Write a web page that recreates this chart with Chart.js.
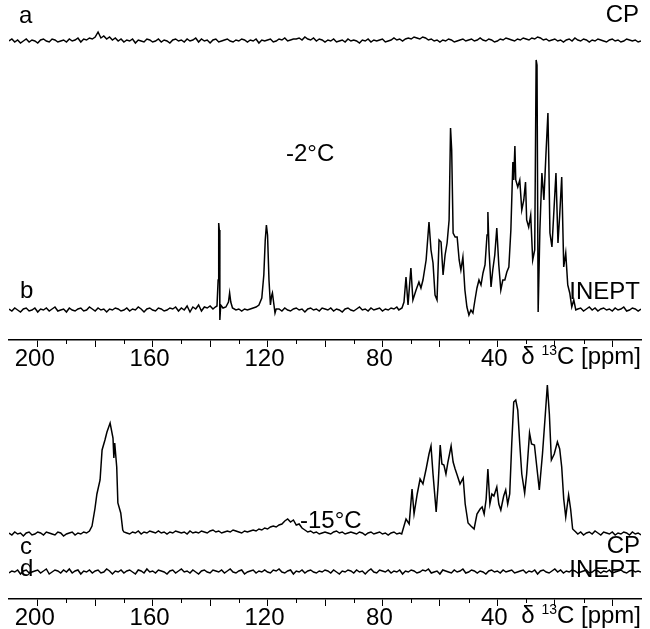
<!DOCTYPE html>
<html>
<head>
<meta charset="utf-8">
<script src="https://cdn.jsdelivr.net/npm/chart.js@4.4.1/dist/chart.umd.min.js"></script>
<style>
  body { margin: 0; background: #fff; }
  #wrap { position: relative; width: 650px; height: 629px; font-family: "Liberation Sans", Arial, sans-serif; }
  canvas { position: absolute; left: 0; }
  .lbl { position: absolute; font-size: 24px; line-height: 24px; color: #000; white-space: nowrap; }
  .lbl sup { font-size: 14px; vertical-align: 9px; line-height: 0; }
</style>
</head>
<body>
<div id="wrap">
  <canvas id="topChart" width="650" height="370" style="top:0"></canvas>
  <canvas id="botChart" width="650" height="259" style="top:370px"></canvas>

  <div class="lbl" style="left:19px; top:3px">a</div>
  <div class="lbl" style="right:11px; top:2px">CP</div>
  <div class="lbl" style="left:286px; top:141px">-2°C</div>
  <div class="lbl" style="left:20px; top:278px">b</div>
  <div class="lbl" style="right:10px; top:279px">INEPT</div>
  <div class="lbl" style="right:9px; top:344px">δ <sup>13</sup>C [ppm]</div>

  <div class="lbl" style="left:300px; top:508px">-15°C</div>
  <div class="lbl" style="left:20px; top:534px">c</div>
  <div class="lbl" style="right:10px; top:533px">CP</div>
  <div class="lbl" style="left:20px; top:556px">d</div>
  <div class="lbl" style="right:10px; top:557px">INEPT</div>
  <div class="lbl" style="right:9px; top:603px">δ <sup>13</sup>C [ppm]</div>
</div>

<script>
// chemical shift axis, ppm (reversed)
const ppmMin = -10;
const ppmMax = 210;
const tickLabels = [200, 160, 120, 80, 40];

// noise-only traces, one value per ppm from 210 down to -10
const aNoise = [0, 2, -1, 1, -2, 0, 2, -1, 1, 0, -2, 1, 2, 0, -1, 2, 1, -1, 0, 1,
  -1, 2, 0, 1, 3, -1, 2, 1, 3, 2, 4, 9, 3, 5, 2, 4, 1, 3, 0, 2,
  -1, 1, 0, 2, -2, 1, 0, -1, 2, 1, -1, 0, 2, -1, 1, 0, -2, 1, 2, 0,
  1, -1, 2, 0, 1, 3, -1, 2, 0, 1, -2, 1, 2, -1, 0, 1, 2, 0, -1, 1,
  0, 2, 1, -1, 1, 0, 2, -2, 1, 0, 1, 2, -1, 0, 2, 1, 3, 0, 1, 2,
  2, 3, 1, 4, 2, 1, 3, 0, 2, 1, -1, 1, 0, 2, -1, 0, 1, -1, 2, 0,
  1, 0, -2, 1, 0, 2, -1, 1, 0, 1, 2, -1, 0, 1, 3, 1, 2, 0, 2, 3,
  2, 4, 3, 2, 4, 3, 1, 2, 0, 1, -1, 1, 0, 2, 1, -1, 0, 1, 2, 0,
  1, 2, 0, 1, 3, 1, 0, 2, 1, -1, 0, 2, 1, 3, 2, 1, 0, 2, 1, 3,
  2, 1, 3, 2, 4, 3, 1, 2, 0, 1, 2, 0, 1, -1, 1, 2, 0, 3, 1, 0,
  2, 1, -1, 1, 0, 2, 1, 0, -1, 1, 2, 0, 1, -1, 0, 2, 1, 0, 1, -1,
  0];
const dNoise = [-1, 1, 0, 2, -2, 1, 2, -1, 0, 1, 2, -1, 1, 3, -2, 0, 2, 1, -1, 2,
  0, 3, -1, 1, 2, -2, 1, 0, 2, -1, 1, 2, -1, 0, 3, 1, -2, 1, 0, 2,
  -1, 1, 2, 0, -2, 2, 1, -1, 3, 0, 1, -1, 2, 1, 0, -2, 1, 2, -1, 1,
  3, 0, 1, -1, 2, 0, -2, 1, 2, 0, -1, 2, 1, 0, 2, -1, 1, 3, 0, -1,
  1, 2, -2, 0, 1, 2, -1, 1, 0, 2, 0, -1, 2, 1, 3, 0, -1, 1, 2, -2,
  1, 0, 2, -1, 1, 2, 0, -1, 1, 0, 2, 1, -1, 2, 0, -2, 1, 0, 2, 1,
  -1, 2, 0, 1, -2, 1, 3, 0, -1, 2, 1, 0, 2, -1, 1, 0, 2, -2, 1, 0,
  2, 1, -1, 0, 2, 1, 3, -1, 0, 1, -2, 2, 1, 0, -1, 2, 0, 1, 3, -1,
  0, 2, 1, -1, 1, 0, -2, 1, 2, 0, 1, -1, 2, 0, 1, 2, -1, 0, 1, 2,
  -1, 1, 0, 2, -2, 1, 2, 0, -1, 1, 3, 0, 2, -1, 1, 0, 2, 1, -1, 0,
  1, 2, -1, 0, 2, 1, -1, 1, 0, 2, -1, 0, 1, 2, 0, -1, 1, 2, 0, 1,
  0];

// trace b (INEPT, -2°C): baseline pieces (1 ppm steps) and peak regions
const bBaseLeft = [1, -1, 2, 0, -2, 1, 2, -1, 0, 2, -2, 1, 0, 2, -1, 1, 3, -1, 0, 1,
  -2, 2, 0, -1, 1, 2, -1, 0, 3, 1, -1, 2, 0, 1, -2, 1, 0, 2, 1, -1,
  0, 2, -1, 1, 0, 3, 1, -2, 1, 2, 0, -1, 2, 1, -1, 0, 2, 1, 3, -1,
  2, 0, 4, -2, 3, 1, 5, -1, 3, 2, 4];          // 210 .. 140
const bBaseMid = [1, -1, 2, 0, -1, 1, 2, 0, 1, -2, 1, 2, 0, 1, -1, 2, 1, 0, 2, -1,
  1, 0, -2, 1, 2, 0, -1, 1, 3, 0, 1, -1, 2, 0, 1, 2, -1, 1, 0, 2,
  1, 3];                                        // 116 .. 75
const bBaseRight = [1, 2, -1, 1, 3, 0, 2, -1, 1, 2, 0, 1, -1, 2, 0, 1, 3, -1, 0, 2,
  1, -1, 1];                                    // 12 .. -10

const bArylPpm = [139, 138.2, 137.6, 137.2, 137.0, 136.8, 136.6, 136.3, 135.5, 134.5,
  133.6, 133.2, 132.8, 132.2, 131, 130, 129, 128, 127, 126,
  125, 124, 123, 122, 121.3, 120.8, 120.4, 120.0, 119.5, 119.0,
  118.6, 118.3, 117.9, 117.4, 117];
const bArylInt = [1, 3, 4, 30, 87, 80, -10, 5, 2, 3,
  8, 17, 8, 2, 0, 1, -1, 1, 0, 1,
  2, 3, 5, 12, 35, 70, 85, 75, 30, 5,
  14, 17, 8, -3, 1];

const bAliphPpm = [74.3, 73.2, 72.5, 71.8, 71.1, 70.1, 69.4, 68.3, 67.3, 66.6,
  65.9, 64.8, 63.8, 63.1, 62.4, 61.7, 61.0, 60.3, 59.6, 58.9,
  58.2, 57.5, 56.8, 56.3, 55.9, 55.4, 54.7, 54.0, 53.3, 52.7,
  52.0, 51.3, 50.6, 49.9, 49.2, 48.5, 47.8, 47.1, 46.4, 45.7,
  45.0, 44.3, 43.6, 43.3, 42.9, 42.2, 41.6, 40.9, 40.2, 39.5,
  38.8, 38.1, 37.4, 36.7, 36.0, 35.3, 34.6, 34.3, 33.9, 33.6,
  32.9, 32.2, 31.5, 30.8, 30.2, 29.8, 29.1, 28.4, 27.7, 27.0,
  26.5, 26.2, 25.8, 25.2, 24.5, 23.8, 23.1, 22.4, 22.1, 21.7,
  21.0, 20.3, 19.6, 18.9, 18.3, 17.6, 16.9, 16.2, 15.5, 14.8,
  14.1, 13.4, 12.7];
const bAliphInt = [0, 2, 8, 33, 5, 42, 10, 20, 28, 22,
  30, 50, 88, 60, 47, 15, 10, 70, 68, 35,
  55, 67, 90, 182, 160, 77, 73, 73, 50, 40,
  53, 20, 3, -5, 0, -3, 10, 22, 30, 25,
  37, 45, 75, 98, 60, 23, 40, 55, 82, 45,
  20, 30, 30, 38, 43, 80, 148, 130, 164, 130,
  123, 130, 100, 110, 128, 90, 83, 95, 50, 60,
  250, 245, -2, 80, 137, 110, 155, 197, 150, 77,
  63, 100, 137, 67, 95, 133, 43, 57, 25, 17,
  3, 10, 0];

// trace c (CP, -15°C)
const cBaseLeft = [1, -1, 2, 0, 1, -2, 1, 2, -1, 0, 2, 1, -1, 2, 1, 0, -1, 2, 1, -2,
  0, 1, 2, -1, 1, 0, 2, 1, 3];                 // 210 .. 182
const cBaseMid = [2, 1, 0, 2, 1, 3, 0, 2, 1, 3, 2, 1, 3, 1, 2, 0, 2, 1, 3, 2,
  1, 2, 0, 3, 1, 2, 1, 3, 2, 1, 3, 4, 2, 3, 1, 2, 3, 2, 4, 3,
  2, 1, 3, 2, 3, 4, 3, 5, 4, 6, 5, 7, 8, 7, 9, 10, 13, 15, 12, 14,
  9, 10, 6, 4, 2, 3, 1, 2, 0, 1, 2, 1, 0, 2, 3, 1, 2, 0, 1, 2,
  1, 0, 2, 1, -1, 1, 2, 0, 1, 2, 0, 1, -1, 1, 2, 0, 1]; // 170 .. 74
const cBaseRight = [0, 2, -1, 1, 2, 0, 3, 1, -1, 2, 1, 0, 2, -1, 1, 0, 2, 1, -1, 2,
  0, 1, -1];                                    // 12 .. -10

const cCarbPpm = [181.1, 180.1, 179.4, 178.3, 177.6, 176.6, 175.9, 174.8, 173.8, 173.5,
  173.2, 172.5, 172.1, 171.1, 170.4];
const cCarbInt = [8, 25, 40, 54, 84, 94, 102, 111, 96, 76,
  91, 67, 31, 21, 4];

const cAliphPpm = [73.3, 71.8, 70.7, 69.7, 69.0, 67.9, 66.9, 65.9, 64.8, 63.8,
  63.1, 62.4, 61.3, 60.6, 59.9, 59.3, 58.6, 57.9, 57.2, 56.1,
  55.4, 54.7, 54.0, 53.0, 51.9, 51.2, 50.2, 49.2, 48.1, 47.1,
  46.0, 45.3, 44.6, 43.9, 43.3, 42.6, 41.9, 41.2, 40.2, 39.5,
  38.8, 37.8, 37.1, 36.4, 35.7, 35.0, 34.3, 33.6, 32.9, 32.2,
  31.5, 30.5, 29.8, 28.8, 28.1, 27.1, 26.0, 25.4, 24.3, 23.3,
  22.6, 21.9, 21.2, 20.2, 19.1, 18.3, 17.6, 16.9, 16.2, 15.2,
  14.5, 13.8, 12.7];
const cAliphInt = [0, 15, 10, 45, 20, 40, 55, 50, 65, 80,
  88, 60, 22, 50, 89, 70, 69, 60, 72, 88,
  72, 65, 59, 50, 56, 30, 11, 8, 5, 20,
  25, 27, 20, 35, 65, 30, 40, 38, 47, 30,
  24, 38, 44, 30, 40, 90, 132, 134, 124, 90,
  60, 41, 60, 101, 90, 89, 60, 44, 80, 120,
  149, 120, 74, 80, 92, 85, 67, 35, 17, 39,
  25, 5, 2];

// vertical stacking of the traces (same units as intensities)
const offsetA = 269, offsetB = 0, offsetC = 38, offsetD = 0;

function steps(startPpm, vals, offset) {
  return vals.map((v, i) => ({ x: startPpm - i, y: v + offset }));
}
function pairs(ppm, vals, offset) {
  return ppm.map((p, i) => ({ x: p, y: vals[i] + offset }));
}
function joined(parts) {
  return parts.flat().sort((p, q) => q.x - p.x);
}

const traceA = steps(210, aNoise, offsetA);
const traceB = joined([
  steps(210, bBaseLeft, offsetB), pairs(bArylPpm, bArylInt, offsetB),
  steps(116, bBaseMid, offsetB), pairs(bAliphPpm, bAliphInt, offsetB),
  steps(12, bBaseRight, offsetB)
]);
const traceC = joined([
  steps(210, cBaseLeft, offsetC), pairs(cCarbPpm, cCarbInt, offsetC),
  steps(170, cBaseMid, offsetC), pairs(cAliphPpm, cAliphInt, offsetC),
  steps(12, cBaseRight, offsetC)
]);
const traceD = steps(210, dNoise, offsetD);

// shorter unlabeled ticks every 10 ppm between the 20 ppm ones
const minorTicks = {
  id: 'minorTicks',
  afterDraw(chart) {
    const s = chart.scales.x;
    const c = chart.ctx;
    c.save();
    c.strokeStyle = '#000';
    c.lineWidth = 1;
    for (let v = 10; v < ppmMax; v += 20) {
      const px = Math.round(s.getPixelForValue(v)) + 0.5;
      c.beginPath();
      c.moveTo(px, s.top);
      c.lineTo(px, s.top + 4);
      c.stroke();
    }
    c.restore();
  }
};

function makeChart(id, sets, yMin, yMax) {
  const ctx = document.getElementById(id).getContext('2d');
  return new Chart(ctx, {
    type: 'line',
    data: {
      datasets: sets.map(d => ({
        data: d,
        borderColor: '#000',
        borderWidth: 1.5,
        pointRadius: 0,
        fill: false,
        tension: 0
      }))
    },
    options: {
      responsive: false,
      devicePixelRatio: 1,
      animation: false,
      layout: { padding: { left: 9, right: 9, top: 0, bottom: 0 } },
      plugins: { legend: { display: false }, tooltip: { enabled: false } },
      scales: {
        x: {
          type: 'linear',
          reverse: true,
          min: ppmMin,
          max: ppmMax,
          afterFit: s => { s.height = 30; },
          border: { display: true, color: '#000', width: 1.5 },
          grid: {
            drawOnChartArea: false,
            drawTicks: true,
            tickLength: 7,
            tickWidth: 1,
            tickColor: c => (c.tick && c.tick.value % 20 === 0 && c.tick.value > ppmMin && c.tick.value < ppmMax) ? '#000' : 'rgba(0,0,0,0)'
          },
          ticks: {
            stepSize: 10,
            autoSkip: false,
            maxRotation: 0,
            padding: -2,
            labelOffset: -3,
            color: '#000',
            font: { family: '"Liberation Sans", Arial, sans-serif', size: 24 },
            callback: v => tickLabels.includes(v) ? String(v) : ''
          }
        },
        y: { display: false, min: yMin, max: yMax }
      }
    },
    plugins: [minorTicks]
  });
}

makeChart('topChart', [traceA, traceB], -30, 310);
makeChart('botChart', [traceC, traceD], -27, 202);
</script>
</body>
</html>
